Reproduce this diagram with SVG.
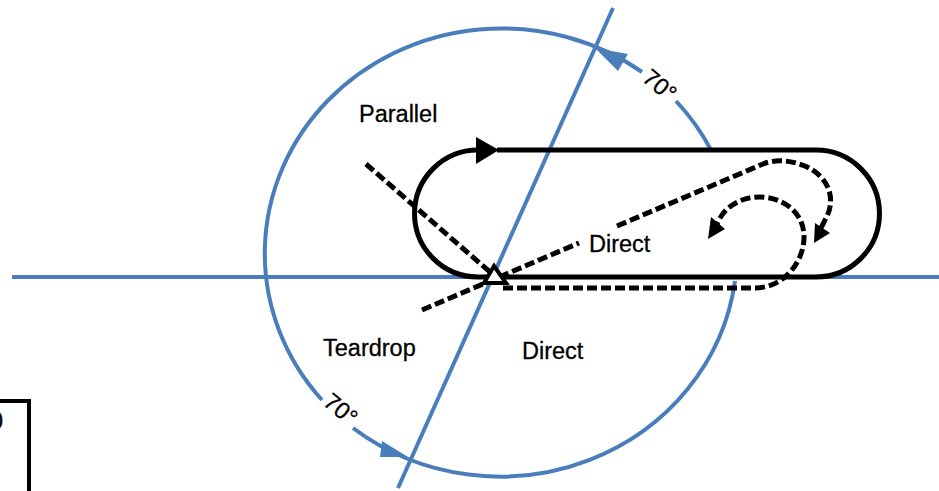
<svg xmlns="http://www.w3.org/2000/svg" width="939" height="491" viewBox="0 0 939 491">
<style>
.blue{fill:none;stroke:#4a7ebb;stroke-width:4}
.blk{fill:none;stroke:#000;stroke-width:5}
.dash{fill:none;stroke:#000;stroke-width:5;stroke-dasharray:10 4}
.bh{fill:#4a7ebb}
.k{fill:#000}
text{font-family:"Liberation Sans",Arial,sans-serif;font-size:23.500px;fill:#000;stroke:#000;stroke-width:.3}
</style>
<rect width="939" height="491" fill="#fff"/>
<g id="connectors">
<path class="blue" d="M12 277H480M825 277H939M613 8L398 488"/>
<path class="blue" d="M711 150A237 225 0 0 0 676 101M642 72A237 225 0 0 0 322 400M353 428A237 225 0 0 0 735 281"/>
<path class="bh" d="M595 48L628 54L618 71Z"/>
<path class="bh" d="M408 457L382 441L380 457Z"/>
<path class="blk" d="M497 150H816A63.500 63.500 0 0 1 816 277H478A63.500 63.500 0 0 1 478 150H490"/>
<path class="k" d="M499 150L476 137V164Z"/>
<path class="dash" d="M366 164L490 272"/>
<path class="dash" d="M422 310L579 243M617 226L763 164C775 159 790 160 805 166C830 177 836 200 826 218L820 230"/>
<path class="k" d="M814 243L815 223L830 233Z"/>
<path class="dash" d="M503 288H755C785 288 805 260 804 235C803 210 780 197 760 197C740 197 724 207 717 224"/>
<path class="k" d="M708 239L711 217L725 229Z"/>
</g>
<g id="station"><path d="M494 266L484 283H506Z" fill="#fff" stroke="#000" stroke-width="4"/></g>
<g id="legend-box"><path d="M0 401H29V491" fill="none" stroke="#000" stroke-width="4"/><text x="-10" y="429">0</text></g>
<g id="labels">
<text x="359" y="122">Parallel</text>
<text x="589" y="252">Direct</text>
<text x="323" y="356">Teardrop</text>
<text x="522" y="359">Direct</text>
<text transform="translate(641 80) rotate(40)">70°</text>
<text transform="translate(322 404) rotate(40)">70°</text>
</g>
</svg>
